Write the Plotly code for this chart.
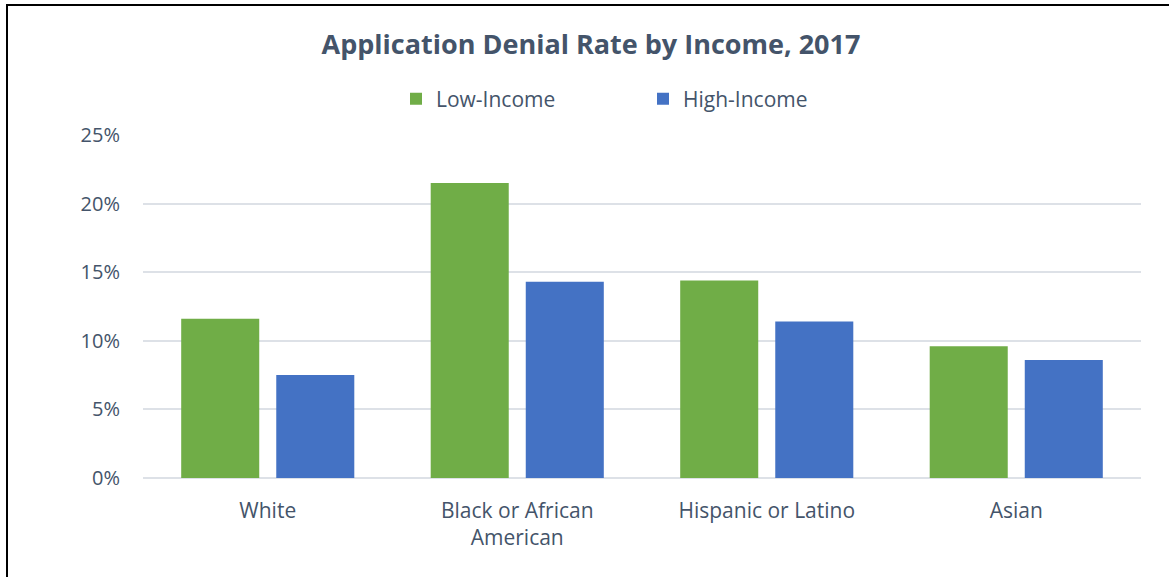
import plotly.graph_objects as go

categories = ["White", "Black or African<br>American", "Hispanic or Latino", "Asian"]
low_income = [0.116, 0.215, 0.144, 0.096]
high_income = [0.075, 0.143, 0.114, 0.086]
series_names = ["Low-Income", "High-Income"]
y_ticks = [0, 0.05, 0.10, 0.15, 0.20, 0.25]
y_tick_labels = ["0%", "5%", "10%", "15%", "20%", "25%"]

W, H = 1169, 577
L, R, T, B = 143, 28, 135, 99
text_color = "#44546A"
font_family = "'Open Sans', Lato, sans-serif"

fig = go.Figure()
fig.add_trace(go.Bar(x=categories, y=low_income, name=series_names[0],
                     marker=dict(color="#70AD47", line=dict(width=0))))
fig.add_trace(go.Bar(x=categories, y=high_income, name=series_names[1],
                     marker=dict(color="#4472C4", line=dict(width=0))))

pw = W - L - R
ph = H - T - B
def px_x(px):
    return (px - L) / pw
def px_y(py):
    return (H - B - py) / ph

shapes = [
    dict(type="line", xref="paper", yref="paper", x0=px_x(6), x1=px_x(W + 2),
         y0=px_y(5), y1=px_y(5), line=dict(color="black", width=2)),
    dict(type="line", xref="paper", yref="paper", x0=px_x(7), x1=px_x(7),
         y0=px_y(4), y1=px_y(H + 2), line=dict(color="black", width=2)),
]

fig.update_layout(
    width=W, height=H,
    margin=dict(l=L, r=R, t=T, b=B),
    paper_bgcolor="white", plot_bgcolor="white",
    font=dict(family=font_family, color=text_color, size=20),
    title=dict(text="<b>Application Denial Rate by Income, 2017</b>",
               x=591 / W, xanchor="center", y=1 - 45 / H, yanchor="middle",
               font=dict(size=27, color=text_color, family=font_family)),
    legend=dict(orientation="h", x=px_x(396), xanchor="left", y=px_y(99), yanchor="middle",
                font=dict(size=21, color=text_color), itemwidth=30,
                entrywidth=202, entrywidthmode="pixels", traceorder="normal"),
    barmode="group", bargap=0.238, bargroupgap=0.179,
    shapes=shapes,
    showlegend=True,
)
fig.update_yaxes(range=[0, 0.25], tickvals=y_ticks, ticktext=y_tick_labels,
                 showgrid=True, gridcolor="#DDE1E7", gridwidth=2, zeroline=True,
                 zerolinecolor="#DDE1E7", zerolinewidth=2, showline=False,
                 ticks="", ticklabelstandoff=22,
                 tickfont=dict(size=20, color=text_color))
fig.update_xaxes(showline=False, ticks="", tickfont=dict(size=21, color=text_color),
                 ticklabelstandoff=18)

fig.write_html("out.html", config={"displayModeBar": False},
               post_script="document.body.style.margin='0';")
